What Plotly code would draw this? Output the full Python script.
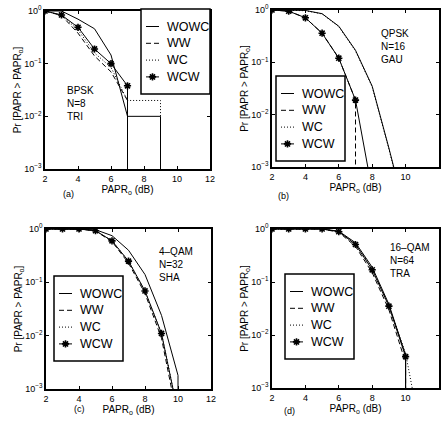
import plotly.graph_objects as go

W, H = 443, 430
FONT = "Liberation Sans, Arial, sans-serif"

papr = [2, 3, 4, 5, 6, 7, 8, 9, 10, 11]
series_names = ["WOWC", "WW", "WC", "WCW"]

# (a) BPSK, N=8, TRI   (0 = probability dropped to zero)
a_wowc = [1.0, 1.0, 0.70, 0.46, 0.146, 0.010, 0.010, 0.010, 0]
a_ww = [1.0, 0.82, 0.38, 0.14, 0.07, 0.02, 0]
a_wc = [1.0, 0.83, 0.44, 0.16, 0.085, 0.02, 0.02, 0.02, 0]
a_wcw = [1.0, 0.84, 0.49, 0.19, 0.10, 0.038, 0]

# (b) QPSK, N=16, GAU
b_wowc = [1.0, 0.99, 0.98, 0.85, 0.49, 0.17, 0.035, 0.0023, 0.00013]
b_ww = [1.0, 0.95, 0.71, 0.36, 0.12, 0.019, 0]
b_wc = [1.0, 0.99, 0.97, 0.84, 0.48, 0.165, 0.034, 0.0022, 0.00012]
b_wcw = [1.0, 0.95, 0.71, 0.36, 0.12, 0.019, 0.00035, 0]

# (c) 4-QAM, N=32, SHA
c_wowc = [1.0, 1.0, 1.0, 0.97, 0.75, 0.40, 0.14, 0.024, 0.0018, 0]
c_ww = [1.0, 1.0, 1.0, 0.92, 0.58, 0.23, 0.062, 0.009, 0.00025]
c_wc = [1.0, 1.0, 1.0, 0.93, 0.60, 0.25, 0.068, 0.011, 0.00037]
c_wcw = [1.0, 1.0, 1.0, 0.93, 0.60, 0.25, 0.069, 0.011, 0.00035]

# (d) 16-QAM, N=64, TRA
d_wowc = [1.0, 1.0, 1.0, 1.0, 0.91, 0.55, 0.19, 0.038, 0.0042, 0]
d_ww = [1.0, 1.0, 1.0, 1.0, 0.87, 0.47, 0.15, 0.030, 0.0030, 0]
d_wc = [1.0, 1.0, 1.0, 1.0, 0.90, 0.53, 0.18, 0.036, 0.0045, 0.0001]
d_wcw = [1.0, 1.0, 1.0, 1.0, 0.89, 0.51, 0.17, 0.035, 0.0039, 0]

panel_data = [
    [a_wowc, a_ww, a_wc, a_wcw],
    [b_wowc, b_ww, b_wc, b_wcw],
    [c_wowc, c_ww, c_wc, c_wcw],
    [d_wowc, d_ww, d_wc, d_wcw],
]
panel_text = ["BPSK<br>N=8<br>TRI", "QPSK<br>N=16<br>GAU",
              "4–QAM<br>N=32<br>SHA", "16–QAM<br>N=64<br>TRA"]
panel_tags = ["(a)", "(b)", "(c)", "(d)"]

# layout in pixels (left, right, top, bottom) of each axes box
boxes = [(45, 210, 11, 169), (272, 439, 10, 167), (46, 211, 229, 389), (272, 439, 229, 388)]
text_pos = [(65, 104), (379, 46), (157, 264), (388, 260)]
tag_pos = [(61, 194), (283, 196), (72, 416), (297, 418)]
legend_pos = [(141, 9), (276, 76), (54, 276), (285, 274)]

styles = [
    dict(dash="solid", marker=False),
    dict(dash="5px,3px", marker=False),
    dict(dash="1px,2px", marker=False),
    dict(dash="solid", marker=True),
]


def drop_to_zero(y):
    # semilog: a zero value is drawn as a vertical drop off the axis
    xs, ys = [], []
    for xi, yi in zip(papr, y):
        if yi <= 0:
            xs.append(xs[-1])
            ys.append(1e-6)
            break
        xs.append(xi)
        ys.append(yi)
    return xs, ys


star = dict(symbol="asterisk-open", size=6, color="black", line=dict(color="black", width=1.6))

fig = go.Figure()
ann = []
shapes = []

for k in range(4):
    l, r, t, b = boxes[k]
    sfx = "" if k == 0 else str(k + 1)
    for name, y, st in zip(series_names, panel_data[k], styles):
        xs, ys = drop_to_zero(y)
        fig.add_trace(go.Scatter(
            x=xs, y=ys, name=name, showlegend=False,
            mode="lines+markers" if st["marker"] else "lines",
            line=dict(color="black", width=1, dash=st["dash"]),
            marker=star, xaxis="x" + sfx, yaxis="y" + sfx,
        ))
    common = dict(showline=True, linecolor="black", linewidth=1.5, mirror="ticks",
                  ticks="inside", ticklen=3, tickcolor="black", showgrid=False,
                  zeroline=False, automargin=False,
                  tickfont=dict(size=9, color="black", family=FONT))
    fig.layout["xaxis" + sfx] = dict(
        domain=[l / W, r / W], range=[2, 12], tickvals=[2, 4, 6, 8, 10, 12],
        anchor="y" + sfx,
        title=dict(text="PAPR<sub>o</sub> (dB)", standoff=0,
                   font=dict(size=10, color="black", family=FONT)),
        **common)
    fig.layout["yaxis" + sfx] = dict(
        domain=[1 - b / H, 1 - t / H], type="log", range=[-3, 0],
        tickvals=[1e-3, 1e-2, 1e-1, 1],
        ticktext=["10<sup>−3</sup>", "10<sup>−2</sup>", "10<sup>−1</sup>", "10<sup>0</sup>"],
        anchor="x" + sfx,
        title=dict(text="Pr [PAPR > PAPR<sub>o</sub>]", standoff=0,
                   font=dict(size=10, color="black", family=FONT)),
        **common)

    tx, ty = text_pos[k]
    ann.append(dict(text=panel_text[k], x=tx / W, y=1 - ty / H, xref="paper", yref="paper",
                    xanchor="left", yanchor="middle", align="left", showarrow=False,
                    font=dict(size=10, color="black", family=FONT)))
    gx, gy = tag_pos[k]
    ann.append(dict(text=panel_tags[k], x=gx / W, y=1 - gy / H, xref="paper", yref="paper",
                    showarrow=False, font=dict(size=9, color="black", family=FONT)))

    # legend box drawn on a pixel overlay axis
    lx, ly = legend_pos[k]
    shapes.append(dict(type="rect", xref="x5", yref="y5", x0=lx, x1=lx + 69, y0=ly, y1=ly + 85,
                       line=dict(color="black", width=1.5), fillcolor="white", layer="below"))
    for i, (name, st) in enumerate(zip(series_names, styles)):
        ry = ly + 17.5 + 16.8 * i
        fig.add_trace(go.Scatter(
            x=[lx + 5, lx + 18], y=[ry, ry], showlegend=False, hoverinfo="skip",
            mode="lines", line=dict(color="black", width=1, dash=st["dash"]),
            xaxis="x5", yaxis="y5"))
        if st["marker"]:
            fig.add_trace(go.Scatter(
                x=[lx + 11.5], y=[ry], showlegend=False, hoverinfo="skip", mode="markers",
                marker=star, xaxis="x5", yaxis="y5"))
        ann.append(dict(text=name, x=lx + 24, y=ry, xref="x5", yref="y5",
                        xanchor="left", yanchor="middle", showarrow=False,
                        font=dict(size=12.5, color="black", family=FONT)))

fig.update_layout(
    width=W, height=H, margin=dict(l=0, r=0, t=0, b=0),
    paper_bgcolor="white", plot_bgcolor="rgba(0,0,0,0)",
    xaxis5=dict(domain=[0, 1], range=[0, W], visible=False, anchor="y5",
                fixedrange=True, automargin=False),
    yaxis5=dict(domain=[0, 1], range=[H, 0], visible=False, anchor="x5",
                fixedrange=True, automargin=False),
    annotations=ann, shapes=shapes, font=dict(family=FONT, color="black"),
)

# drop the default page margin so the figure fills the window exactly
fig.write_html("out.html", config={"displayModeBar": False},
               post_script="document.body.style.margin = '0';")
